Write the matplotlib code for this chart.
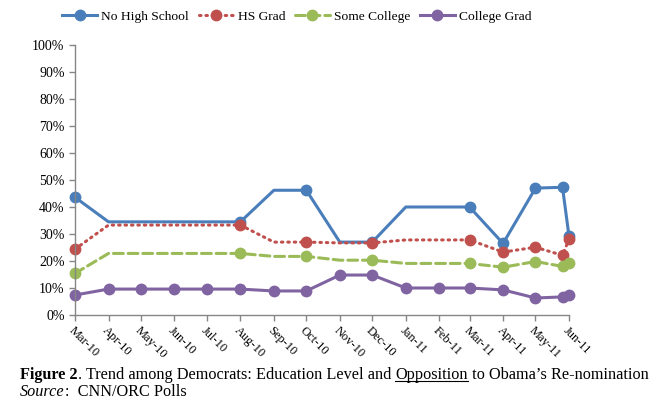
import numpy as np
import pandas as pd
import matplotlib
matplotlib.use("Agg")
import matplotlib.pyplot as plt
import matplotlib.dates as mdates
from matplotlib.lines import Line2D

plt.rcParams['font.family'] = ['Liberation Serif', 'DejaVu Serif']

# poll dates (monthly, carried forward between polls) and shares in %
dates = ['2010-03-01', '2010-04-01', '2010-05-01', '2010-06-01', '2010-07-01',
         '2010-08-01', '2010-09-01', '2010-10-01', '2010-11-01', '2010-12-01',
         '2011-01-01', '2011-02-01', '2011-03-01', '2011-04-01', '2011-05-01',
         '2011-05-26', '2011-06-01']
no_high_school = [43.6, 34.5, 34.5, 34.5, 34.5, 34.5, 46.2, 46.2, 27.0, 27.0,
                  40.0, 40.0, 40.0, 26.5, 47.0, 47.3, 29.2]
hs_grad = [24.4, 33.3, 33.3, 33.3, 33.3, 33.3, 27.0, 27.0, 26.7, 26.7,
           27.8, 27.8, 27.8, 23.3, 25.1, 22.1, 28.1]
some_college = [15.4, 22.8, 22.8, 22.8, 22.8, 22.8, 21.7, 21.7, 20.3, 20.3,
                19.1, 19.1, 19.1, 17.7, 19.8, 18.0, 19.1]
college_grad = [7.4, 9.6, 9.6, 9.6, 9.6, 9.6, 8.9, 8.9, 14.8, 14.8,
                10.0, 10.0, 10.0, 9.3, 6.3, 6.7, 7.3]
# indices of actual poll points (shown with markers)
poll_idx = [0, 5, 7, 9, 12, 13, 14, 15, 16]
all_idx = list(range(len(dates)))

x = pd.to_datetime(dates)

fig = plt.figure(figsize=(6.54, 4.11), dpi=100)
ax = fig.add_axes([75 / 654, 96 / 411, 494 / 654, 270 / 411])

series = [
    ("No High School", no_high_school, "#4A7EBB", "-", poll_idx),
    ("HS Grad", hs_grad, "#C0504D", (0, (0.5, 1.6)), poll_idx),
    ("Some College", some_college, "#9BBB59", (0, (3.2, 1.6)), poll_idx),
    ("College Grad", college_grad, "#8064A2", "-", all_idx),
]

handles = []
for name, vals, col, ls, idx in series:
    ax.plot(x, np.array(vals) / 100, color=col, linewidth=2.2, linestyle=ls,
            dash_capstyle='round', solid_capstyle='round', clip_on=False)
    ax.plot(x[idx], np.array(vals)[idx] / 100, linestyle='none', marker='o',
            markersize=7.5, color=col, clip_on=False)
    handles.append(Line2D([0], [0], color=col, linewidth=2.2, linestyle=ls,
                          marker='o', markersize=7.5, dash_capstyle='round'))

ax.set_xlim(pd.Timestamp('2010-03-01'), pd.Timestamp('2011-06-01'))
ax.set_ylim(0, 1)
ax.set_yticks(np.arange(0, 1.01, 0.1))
ax.set_yticklabels([f"{int(round(v * 100))}%" for v in np.arange(0, 1.01, 0.1)], fontsize=10)
ax.xaxis.set_major_locator(mdates.MonthLocator(bymonthday=1))
ax.xaxis.set_major_formatter(mdates.DateFormatter('%b-%y'))
for lab in ax.get_xticklabels():
    lab.set_rotation(-45)
    lab.set_ha('left')
    lab.set_va('top')
    lab.set_rotation_mode('anchor')
    lab.set_fontsize(9)

for s in ['top', 'right']:
    ax.spines[s].set_visible(False)
for s in ['left', 'bottom']:
    ax.spines[s].set_color('#868686')
    ax.spines[s].set_linewidth(1)
ax.tick_params(axis='both', color='#868686', length=4, width=1, direction='out')
ax.tick_params(axis='x', pad=3)

fig.legend(handles, [s[0] for s in series], loc='center left',
           bbox_to_anchor=(57 / 654, 1 - 17 / 411), ncol=4, frameon=False,
           fontsize=9.7, handlelength=2.6, handletextpad=0.3, columnspacing=0.7,
           borderaxespad=0)

# caption built from pieces so bold / underline / italic can be mixed
renderer = fig.canvas.get_renderer()


def put(pieces, x0, y0):
    xp = x0
    for txt, kw in pieces:
        underline = kw.pop('underline', False)
        t = fig.text(xp / 654, 1 - y0 / 411, txt, fontsize=11.7, va='baseline', **kw)
        bb = t.get_window_extent(renderer)
        if underline:
            fig.add_artist(Line2D([bb.x0 / 654, bb.x1 / 654],
                                  [(411 - y0 - 2) / 411] * 2, color='black', linewidth=0.8))
        xp = bb.x1


put([("Figure 2", dict(weight='bold')),
     (". Trend among Democrats: Education Level and ", {}),
     ("Opposition", dict(underline=True)),
     (" to Obama\u2019s Re-nomination", {})], 20, 379)
put([("Source", dict(style='italic')),
     (":  CNN/ORC Polls", {})], 20, 396)

fig.savefig("out.png", dpi=100)
